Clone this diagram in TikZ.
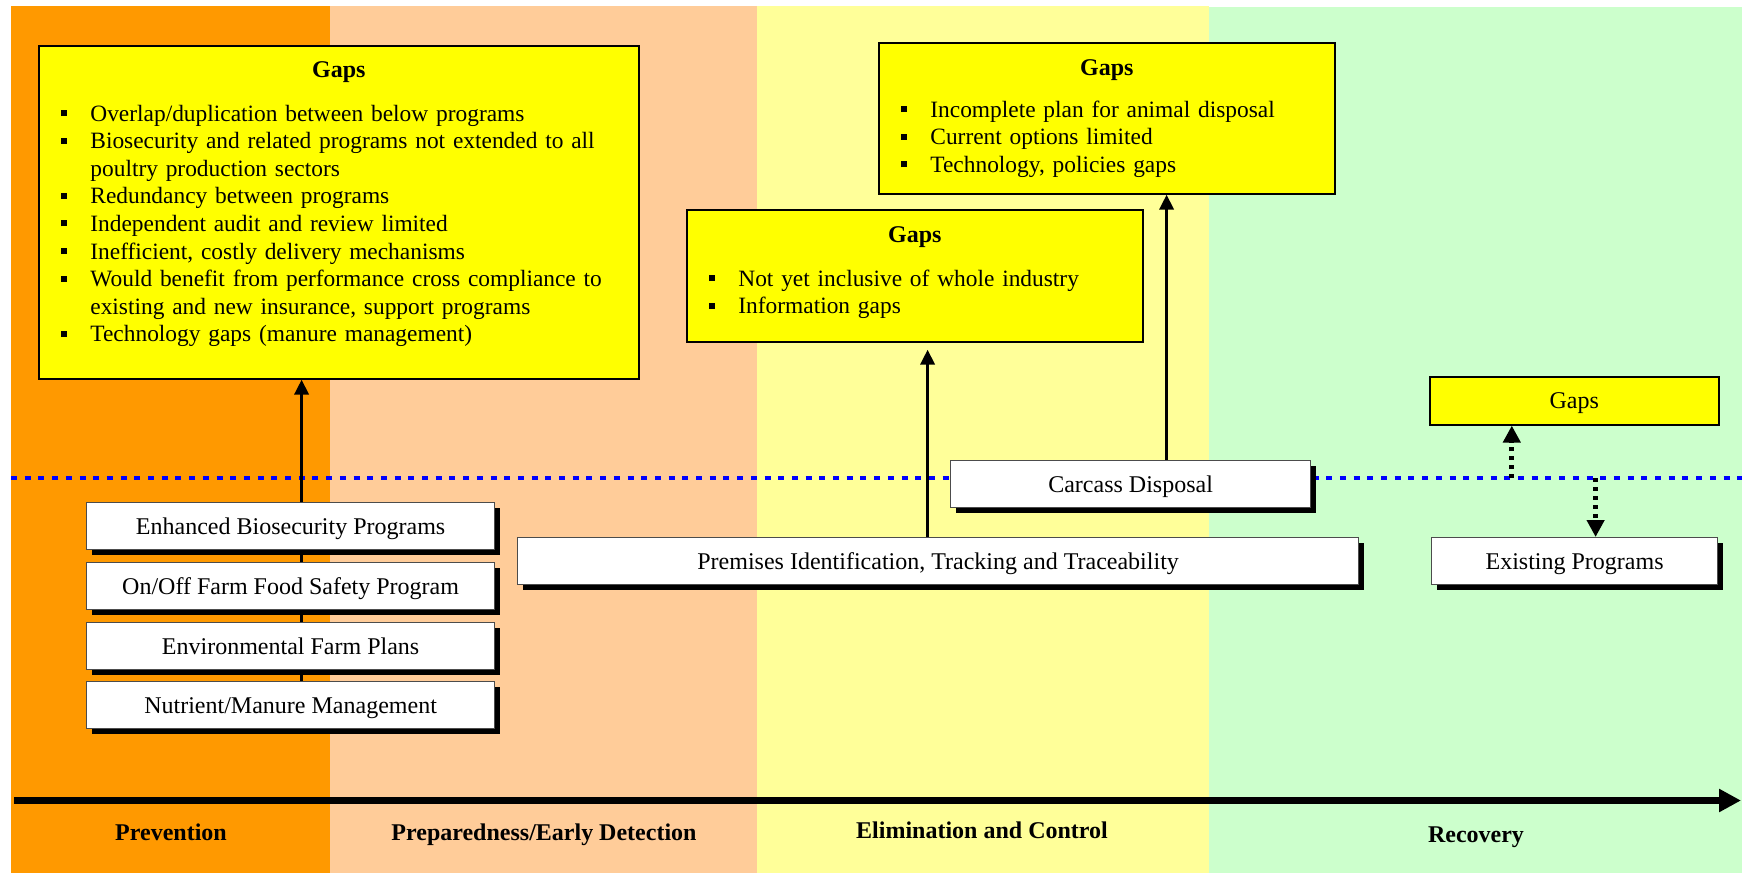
\documentclass[tikz,border=0pt]{standalone}
\usepackage{fontspec}
\setmainfont{Liberation Serif}
\usetikzlibrary{arrows.meta,shadows}

\definecolor{bandA}{RGB}{255,153,0}
\definecolor{bandB}{RGB}{255,204,153}
\definecolor{bandC}{RGB}{255,255,153}
\definecolor{bandD}{RGB}{204,255,204}
\definecolor{gapyellow}{RGB}{255,255,0}
\definecolor{dotblue}{RGB}{0,0,255}

\newcommand\basefont{\fontsize{12}{13.8}\selectfont}
\newcommand\listfont{\fontsize{11.7}{13.8}\selectfont}
% square bullet, and the indent of a wrapped line
\newcommand\gb{\makebox[14.5pt][l]{\rule[2.5pt]{3pt}{3pt}}}
\newcommand\gcont{\hspace*{14.5pt}}

\pgfdeclarelayer{bands}
\pgfdeclarelayer{links}
\pgfsetlayers{bands,links,main}

\tikzset{
  gapbox/.style={draw=black, line width=0.8pt, fill=gapyellow, inner sep=0pt,
    anchor=north west, font=\basefont, text height=8pt, text depth=0pt},
  gaptitle/.style={anchor=base, inner sep=0pt, font=\basefont\bfseries},
  gaplist/.style={anchor=base west, inner sep=0pt, text width=#1, align=left, font=\listfont},
  progbox/.style={draw=black!70, line width=0.6pt, fill=white, inner sep=0pt,
    anchor=north west, minimum height=23.5pt, font=\basefont, text height=8pt, text depth=0pt,
    drop shadow={shadow xshift=2.6pt, shadow yshift=-2.6pt, fill=black, opacity=1}},
  phase/.style={inner sep=0pt, font=\basefont\bfseries, text height=8pt, text depth=0pt},
  uparrow/.style={line width=1.75pt, -{Triangle[width=7pt,length=7.5pt]}},
  dotarrow/.style={line width=2.6pt, dash pattern=on 2pt off 2.5pt, -{Triangle[width=8.5pt,length=8.5pt]}},
  blueline/.style={dotblue, line width=2.4pt, dash pattern=on 3pt off 3.85pt},
  timeline/.style={line width=3.5pt, -{Triangle[width=11pt,length=11pt]}}
}

\begin{document}
\begin{tikzpicture}[x=0.5pt, y=-0.5pt]
\useasboundingbox (0,0) rectangle (1742,873);

% phase bands
\begin{pgfonlayer}{bands}
  \fill[bandA] (11,6) rectangle (330,873);
  \fill[bandB] (330,6) rectangle (757,873);
  \fill[bandC] (757,6) rectangle (1209,873);
  \fill[bandD] (1209,7) rectangle (1742,873);
\end{pgfonlayer}

% gap boxes
\node[gapbox, minimum width=300pt, minimum height=166.5pt] (gapsA) at (38,45) {};
\node[gaptitle] (tA) at ([yshift=-16pt]gapsA.north) {Gaps};
\node[gaplist=285pt] (lA) at ([xshift=11.5pt,yshift=-38pt]gapsA.north west) {%
\gb Overlap/duplication between below programs\\%
\gb Biosecurity and related programs not extended to all\\%
\gcont poultry production sectors\\%
\gb Redundancy between programs\\%
\gb Independent audit and review limited\\%
\gb Inefficient, costly delivery mechanisms\\%
\gb Would benefit from performance cross compliance to\\%
\gcont existing and new insurance, support programs\\%
\gb Technology gaps (manure management)};

\node[gapbox, minimum width=228pt, minimum height=66pt] (gapsB) at (686,209) {};
\node[gaptitle] (tB) at ([yshift=-16.5pt]gapsB.north) {Gaps};
\node[gaplist=210pt] (lB) at ([xshift=11.5pt,yshift=-38.5pt]gapsB.north west) {%
\gb Not yet inclusive of whole industry\\%
\gb Information gaps};

\node[gapbox, minimum width=228pt, minimum height=75.5pt] (gapsC) at (878,42) {};
\node[gaptitle] (tC) at ([yshift=-16.5pt]gapsC.north) {Gaps};
\node[gaplist=210pt] (lC) at ([xshift=11.5pt,yshift=-37.5pt]gapsC.north west) {%
\gb Incomplete plan for animal disposal\\%
\gb Current options limited\\%
\gb Technology, policies gaps};

\node[gapbox, minimum width=144.5pt, minimum height=24pt] (gapsD) at (1429,376) {Gaps};

% milestone line
\coordinate (dotL) at (11,478);
\coordinate (dotR) at (1742,478);
\begin{pgfonlayer}{links}
  \draw[blueline] (dotL) -- (dotR);
\end{pgfonlayer}

% program boxes
\node[progbox, minimum width=204pt] (bio) at (86,502) {Enhanced Biosecurity Programs};
\node[progbox, minimum width=204pt] (farm) at (86,562) {On/Off Farm Food Safety Program};
\node[progbox, minimum width=204pt] (env) at (86,622) {Environmental Farm Plans};
\node[progbox, minimum width=204pt] (nut) at (86,681) {Nutrient/Manure Management};
\node[progbox, minimum width=420.5pt] (premises) at (517,537) {Premises Identification, Tracking and Traceability};
\node[progbox, minimum width=180pt] (carcass) at (950,460) {Carcass Disposal};
\node[progbox, minimum width=143pt] (existing) at (1431,537) {Existing Programs};

% connectors
\begin{pgfonlayer}{links}
  \draw[uparrow] ([xshift=5.5pt]nut.north) -- ([xshift=5.5pt]nut.north |- gapsA.south);
  \draw[uparrow] ([xshift=-5.25pt]premises.north) -- ([xshift=-5.25pt,yshift=-3.5pt]premises.north |- gapsB.south);
  \draw[uparrow] ([xshift=18pt]carcass.north) -- ([xshift=18pt]carcass.north |- gapsC.south);
  \draw[dotarrow] ([xshift=-31.25pt]gapsD.south |- dotL) -- ([xshift=-31.25pt]gapsD.south);
  \draw[dotarrow] ([xshift=10.5pt]existing.north |- dotL) -- ([xshift=10.5pt]existing.north);
\end{pgfonlayer}

% time axis and phases
\coordinate (axisStart) at (14,800.5);
\coordinate (axisEnd) at (1741,800.5);
\draw[timeline] (axisStart) -- (axisEnd);

\node[phase] (ph1) at (171,832) {Prevention};
\node[phase] (ph2) at (544,832) {Preparedness/Early Detection};
\node[phase] (ph3) at (982,830) {Elimination and Control};
\node[phase] (ph4) at (1476,834) {Recovery};
\end{tikzpicture}
\end{document}
